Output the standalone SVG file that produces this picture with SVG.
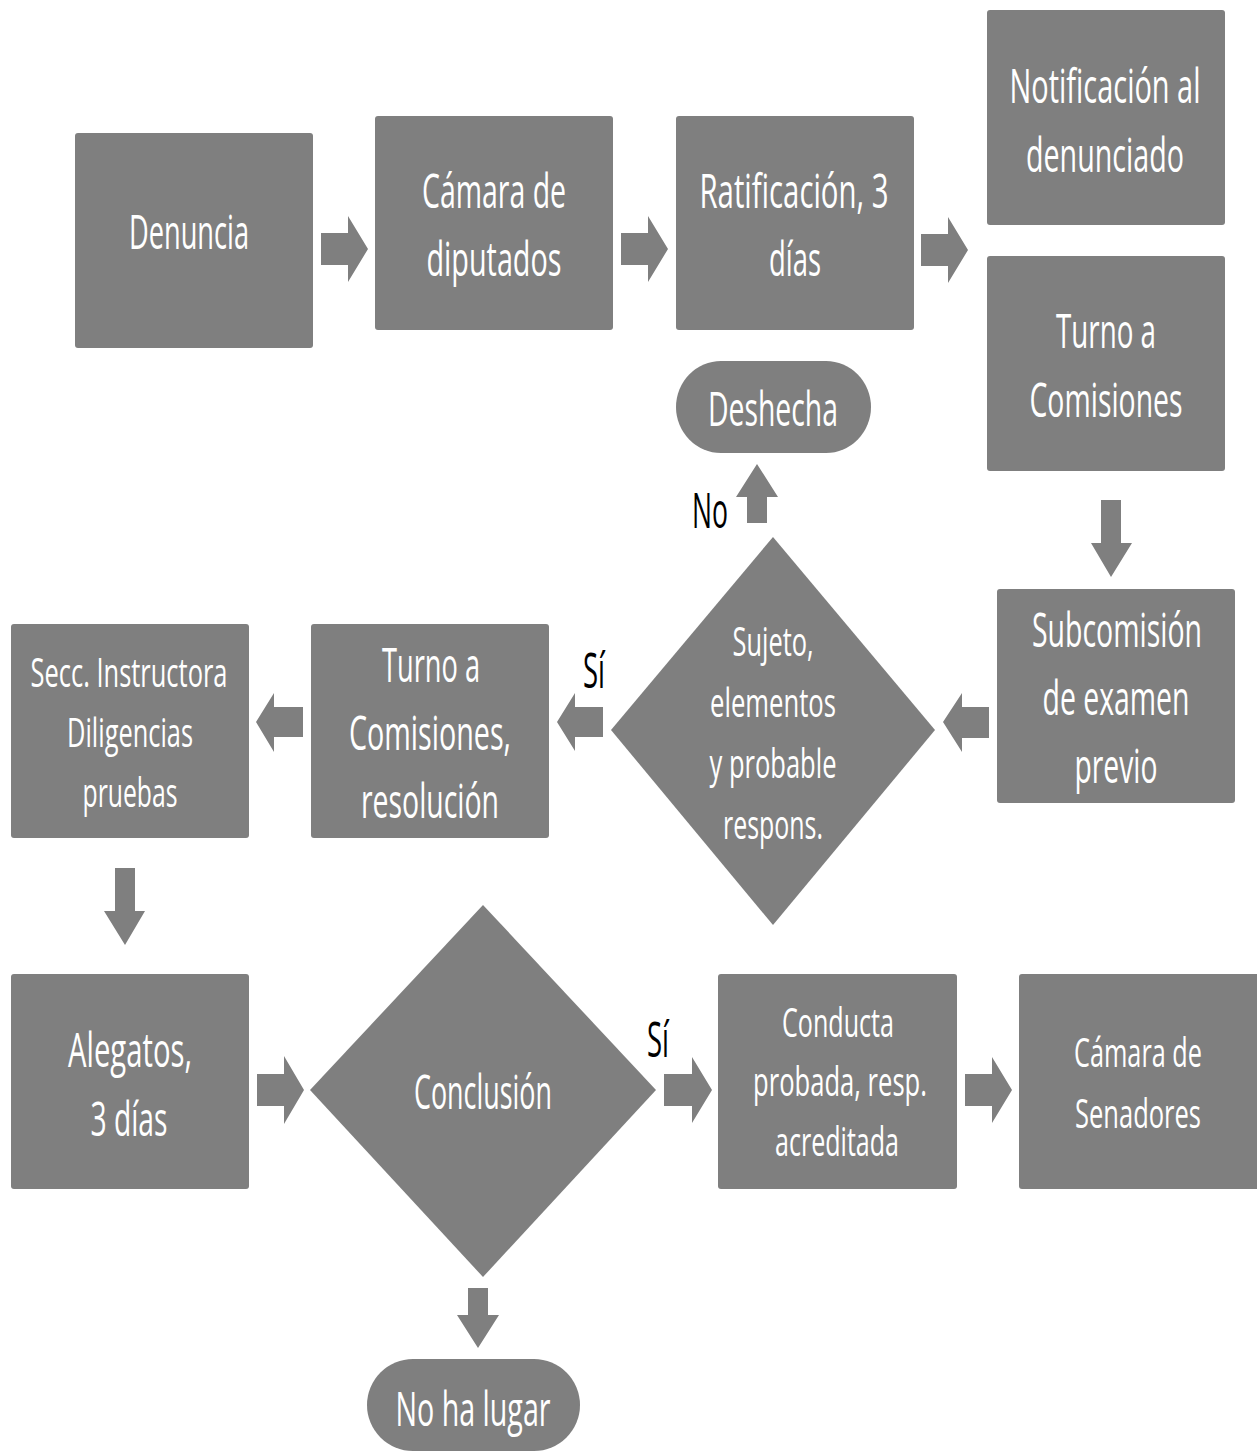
<svg xmlns="http://www.w3.org/2000/svg" width="1257" height="1451" viewBox="0 0 1257 1451">
<style>
.n{fill:#7f7f7f}
.c path{fill:#7f7f7f}
text{font-family:"Open Sans","Noto Sans",sans-serif;text-anchor:middle}
.t{fill:#fff;font-size:48px}
.s{fill:#fff;font-size:41px}
.l{fill:#000;font-size:49px}
</style>
<rect width="1257" height="1451" fill="#fff"/>
<g id="connectors" class="c">
<path d="M321,233 H348 V216 L368,249 L348,282 V265 H321 Z"/>
<path d="M621,233 H648 V216 L668,249 L648,282 V265 H621 Z"/>
<path d="M921,234 H948 V217 L968,250 L948,283 V266 H921 Z"/>
<path d="M1101,500 H1121 V543 H1132 L1111,577 L1091,543 H1101 Z"/>
<path d="M989,707 H962 V693 L943,722 L962,752 V738 H989 Z"/>
<path d="M603,707 H575 V693 L557,722 L575,751 V737 H603 Z"/>
<path d="M303,707 H274 V693 L256,722 L274,752 V737 H303 Z"/>
<path d="M115,868 H135 V911 H145 L125,945 L104,911 H115 Z"/>
<path d="M257,1074 H284 V1056 L304,1090 L284,1124 V1106 H257 Z"/>
<path d="M664,1074 H692 V1057 L712,1090 L692,1123 V1106 H664 Z"/>
<path d="M965,1074 H992 V1057 L1012,1090 L992,1123 V1106 H965 Z"/>
<path d="M468,1288 H488 V1315 H499 L478,1348 L457,1315 H468 Z"/>
<path d="M747,523 V497 H736 L757,464 L778,497 H767 V523 Z"/>
<text class="l" x="710" y="528" textLength="36" lengthAdjust="spacingAndGlyphs">No</text>
<text class="l" x="594" y="688" textLength="22" lengthAdjust="spacingAndGlyphs">Sí</text>
<text class="l" x="658" y="1057" textLength="22" lengthAdjust="spacingAndGlyphs">Sí</text>
</g>
<g id="denuncia">
<rect class="n" x="75" y="133" width="238" height="215" rx="3"/>
<text class="t" x="189" y="249" textLength="120" lengthAdjust="spacingAndGlyphs">Denuncia</text>
</g>
<g id="camara-diputados">
<rect class="n" x="375" y="116" width="238" height="214" rx="3"/>
<text class="t" x="494" y="208" textLength="144" lengthAdjust="spacingAndGlyphs">Cámara de</text>
<text class="t" x="494" y="276" textLength="135" lengthAdjust="spacingAndGlyphs">diputados</text>
</g>
<g id="ratificacion">
<rect class="n" x="676" y="116" width="238" height="214" rx="3"/>
<text class="t" x="794" y="208" textLength="189" lengthAdjust="spacingAndGlyphs">Ratificación, 3</text>
<text class="t" x="795" y="276" textLength="52" lengthAdjust="spacingAndGlyphs">días</text>
</g>
<g id="notificacion">
<rect class="n" x="987" y="10" width="238" height="215" rx="3"/>
<text class="t" x="1105" y="103" textLength="191" lengthAdjust="spacingAndGlyphs">Notificación al</text>
<text class="t" x="1105" y="172" textLength="158" lengthAdjust="spacingAndGlyphs">denunciado</text>
</g>
<g id="turno-comisiones">
<rect class="n" x="987" y="256" width="238" height="215" rx="3"/>
<text class="t" x="1106" y="348" textLength="100" lengthAdjust="spacingAndGlyphs">Turno a</text>
<text class="t" x="1106" y="417" textLength="153" lengthAdjust="spacingAndGlyphs">Comisiones</text>
</g>
<g id="deshecha">
<rect class="n" x="676" y="361" width="195" height="92" rx="45" ry="46"/>
<text class="t" x="773" y="426" textLength="130" lengthAdjust="spacingAndGlyphs">Deshecha</text>
</g>
<g id="subcomision">
<rect class="n" x="997" y="589" width="238" height="214" rx="3"/>
<text class="t" x="1117" y="647" textLength="170" lengthAdjust="spacingAndGlyphs">Subcomisión</text>
<text class="t" x="1116" y="715" textLength="147" lengthAdjust="spacingAndGlyphs">de examen</text>
<text class="t" x="1116" y="783" textLength="83" lengthAdjust="spacingAndGlyphs">previo</text>
</g>
<g id="decision-sujeto">
<polygon class="n" points="773,537 935,730 773,925 611,730"/>
<text class="s" x="773" y="656" textLength="81" lengthAdjust="spacingAndGlyphs">Sujeto,</text>
<text class="s" x="773" y="717" textLength="126" lengthAdjust="spacingAndGlyphs">elementos</text>
<text class="s" x="773" y="778" textLength="127" lengthAdjust="spacingAndGlyphs">y probable</text>
<text class="s" x="773" y="839" textLength="100" lengthAdjust="spacingAndGlyphs">respons.</text>
</g>
<g id="turno-resolucion">
<rect class="n" x="311" y="624" width="238" height="214" rx="3"/>
<text class="t" x="431" y="682" textLength="98" lengthAdjust="spacingAndGlyphs">Turno a</text>
<text class="t" x="430" y="750" textLength="162" lengthAdjust="spacingAndGlyphs">Comisiones,</text>
<text class="t" x="430" y="818" textLength="138" lengthAdjust="spacingAndGlyphs">resolución</text>
</g>
<g id="secc-instructora">
<rect class="n" x="11" y="624" width="238" height="214" rx="3"/>
<text class="s" x="129" y="687" textLength="197" lengthAdjust="spacingAndGlyphs">Secc. Instructora</text>
<text class="s" x="130" y="747" textLength="126" lengthAdjust="spacingAndGlyphs">Diligencias</text>
<text class="s" x="130" y="807" textLength="95" lengthAdjust="spacingAndGlyphs">pruebas</text>
</g>
<g id="alegatos">
<rect class="n" x="11" y="974" width="238" height="215" rx="3"/>
<text class="t" x="130" y="1067" textLength="124" lengthAdjust="spacingAndGlyphs">Alegatos,</text>
<text class="t" x="129" y="1136" textLength="77" lengthAdjust="spacingAndGlyphs">3 días</text>
</g>
<g id="decision-conclusion">
<polygon class="n" points="483,905 656,1090 483,1277 310,1090"/>
<text class="t" x="483" y="1109" textLength="138" lengthAdjust="spacingAndGlyphs">Conclusión</text>
</g>
<g id="conducta">
<rect class="n" x="718" y="974" width="239" height="215" rx="3"/>
<text class="s" x="838" y="1037" textLength="112" lengthAdjust="spacingAndGlyphs">Conducta</text>
<text class="s" x="840" y="1096" textLength="174" lengthAdjust="spacingAndGlyphs">probada, resp.</text>
<text class="s" x="837" y="1156" textLength="124" lengthAdjust="spacingAndGlyphs">acreditada</text>
</g>
<g id="camara-senadores">
<rect class="n" x="1019" y="974" width="240" height="215" rx="3"/>
<text class="s" x="1138" y="1067" textLength="128" lengthAdjust="spacingAndGlyphs">Cámara de</text>
<text class="s" x="1138" y="1128" textLength="126" lengthAdjust="spacingAndGlyphs">Senadores</text>
</g>
<g id="no-ha-lugar">
<rect class="n" x="367" y="1359" width="213" height="92" rx="46" ry="46"/>
<text class="t" x="473" y="1426" textLength="155" lengthAdjust="spacingAndGlyphs">No ha lugar</text>
</g>
</svg>
